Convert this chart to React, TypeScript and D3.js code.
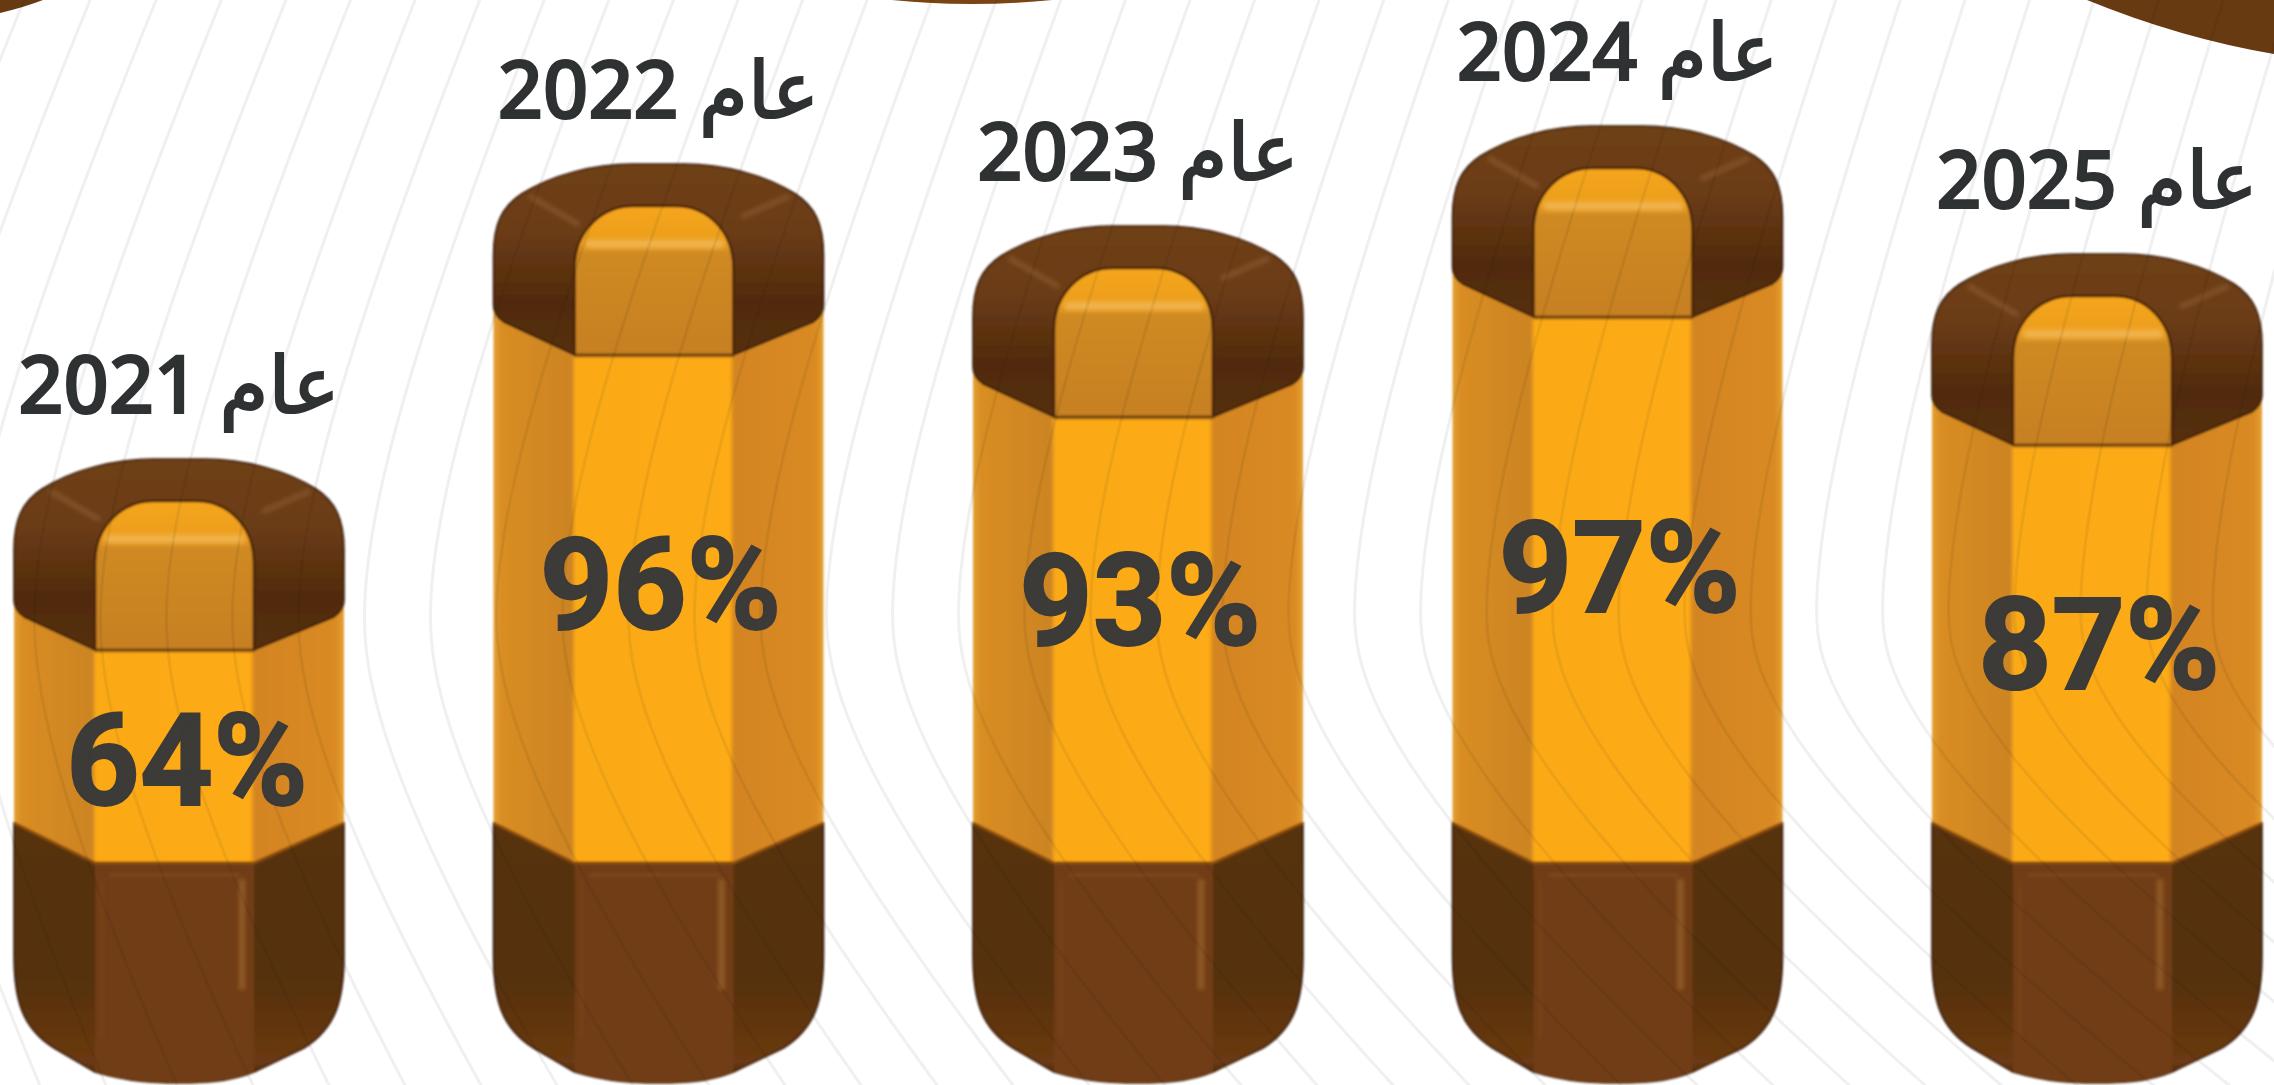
import React from "react";
import * as d3 from "d3";

const years = ["2021", "2022", "2023", "2024", "2025"];
const values = [64, 96, 93, 97, 87];
const yearPrefix = "عام";

const WIDTH = 2274;
const HEIGHT = 1085;
const BAR_W = 330;

// the pictogram heights are not proportional to the values, so these scales are piecewise
const xScale = d3.scalePoint<string>().domain(years).range([14, 1932]);
const topScale = d3.scaleLinear().domain([64, 87, 93, 96, 97]).range([458, 253, 225, 163, 125]);
const pctBase = d3.scaleLinear().domain([64, 87, 93, 96, 97]).range([805, 689, 645, 629, 612]);
const pctNudge = d3.scaleLinear().domain([64, 87]).range([8, 2]).clamp(true);

const BODY_SIDE = 823;
const BODY_MID = 863;
const BOTTOM = 1083;
const P0 = 81;
const P1 = 240;

function capOuter(l: number, t: number) {
  const p = d3.path();
  p.moveTo(l, t + 142);
  p.lineTo(l, t + 92);
  p.bezierCurveTo(l, t + 62, l + 8, t + 44, l + 28, t + 31);
  p.bezierCurveTo(l + 58, t + 12, l + 100, t + 1, l + 140, t + 1);
  p.lineTo(l + 190, t + 1);
  p.bezierCurveTo(l + 230, t + 1, l + 272, t + 12, l + 302, t + 31);
  p.bezierCurveTo(l + 322, t + 44, l + BAR_W, t + 62, l + BAR_W, t + 92);
  p.lineTo(l + BAR_W, t + 142);
  p.bezierCurveTo(l + BAR_W, t + 150, l + BAR_W - 4, t + 155, l + BAR_W - 10, t + 159);
  p.lineTo(l + P1, t + 192);
  p.lineTo(l + P0, t + 192);
  p.lineTo(l + 10, t + 159);
  p.bezierCurveTo(l + 4, t + 155, l, t + 150, l, t + 142);
  p.closePath();
  return p.toString();
}

function capPanel(l: number, t: number) {
  const p = d3.path();
  p.moveTo(l + P0, t + 192);
  p.lineTo(l + P0, t + 105);
  p.bezierCurveTo(l + P0, t + 68, l + 108, t + 43, l + 140, t + 43);
  p.lineTo(l + 182, t + 43);
  p.bezierCurveTo(l + 214, t + 43, l + P1, t + 68, l + P1, t + 105);
  p.lineTo(l + P1, t + 192);
  p.closePath();
  return p.toString();
}

function body(l: number, t: number) {
  const p = d3.path();
  p.moveTo(l, t + 140);
  p.lineTo(l + BAR_W, t + 140);
  p.lineTo(l + BAR_W, BODY_SIDE + 4);
  p.lineTo(l + P1, BODY_MID + 2);
  p.lineTo(l + P0, BODY_MID + 2);
  p.lineTo(l, BODY_SIDE + 4);
  p.closePath();
  return p.toString();
}

function bottomCap(l: number) {
  const w = l + BAR_W;
  const p = d3.path();
  p.moveTo(l, BODY_SIDE);
  p.lineTo(l + P0, BODY_MID);
  p.lineTo(l + P1, BODY_MID);
  p.lineTo(w, BODY_SIDE);
  p.lineTo(w, 955);
  p.bezierCurveTo(w, 1000, w - 8, 1028, w - 40, 1048);
  p.lineTo(l + P1, 1072);
  p.bezierCurveTo(l + 215, 1082, l + 190, BOTTOM, l + 165, BOTTOM);
  p.bezierCurveTo(l + 140, BOTTOM, l + 115, 1082, l + P0, 1072);
  p.lineTo(l + 40, 1048);
  p.bezierCurveTo(l + 8, 1028, l, 1000, l, 955);
  p.closePath();
  return p.toString();
}

function bottomPanel(l: number) {
  const p = d3.path();
  p.moveTo(l + P0, BODY_MID);
  p.lineTo(l + P1, BODY_MID);
  p.lineTo(l + P1, 1072);
  p.bezierCurveTo(l + 215, 1082, l + 190, BOTTOM, l + 165, BOTTOM);
  p.bezierCurveTo(l + 140, BOTTOM, l + 115, 1082, l + P0, 1072);
  p.closePath();
  return p.toString();
}

// decorative contour lines of the page background
const contour = d3
  .line<[number, number]>()
  .x((d) => d[0])
  .y((d) => d[1])
  .curve(d3.curveBasis);

function contourPath(x0: number) {
  const c = 620;
  const up = 0.46 - (Math.max(x0, 0) / 2274) * 0.12;
  const down = 0.5 + (Math.max(x0, 0) / 2000) * 1.1;
  const pts = d3.range(-20, 1110, 30).map((y): [number, number] => {
    const d = Math.abs(y - c);
    const s = y < c ? up : down;
    return [x0 + (s * d * d) / (d + 320), y];
  });
  return contour(pts) as string;
}
const contourStarts = d3.range(-560, 2420, 66);

export default function App() {
  return (
    <svg
      width={WIDTH}
      height={HEIGHT}
      viewBox={`0 0 ${WIDTH} ${HEIGHT}`}
      style={{ position: "fixed", left: 0, top: 0, background: "#fff" }}
    >
      <defs>
        <filter id="soft" x="-5%" y="-5%" width="110%" height="110%">
          <feGaussianBlur stdDeviation="0.9" />
        </filter>
        <filter id="softer" x="-40%" y="-200%" width="180%" height="500%">
          <feGaussianBlur stdDeviation="2.2" />
        </filter>
        <filter id="textSoft" x="-5%" y="-10%" width="110%" height="120%">
          <feGaussianBlur stdDeviation="0.7" />
        </filter>
        <linearGradient id="bodyGrad" x1="0" x2="1" y1="0" y2="0">
          <stop offset="0" stopColor="#e3a033" />
          <stop offset="0.025" stopColor="#d98d24" />
          <stop offset="0.235" stopColor="#cc8422" />
          <stop offset="0.25" stopColor="#fbaa18" />
          <stop offset="0.715" stopColor="#fdab18" />
          <stop offset="0.73" stopColor="#d38520" />
          <stop offset="0.975" stopColor="#da8a22" />
          <stop offset="1" stopColor="#e3a033" />
        </linearGradient>
        <linearGradient id="capGrad" x1="0" x2="0" y1="0" y2="1">
          <stop offset="0" stopColor="#6f4016" />
          <stop offset="0.35" stopColor="#6b3c15" />
          <stop offset="0.72" stopColor="#512b0e" />
          <stop offset="1" stopColor="#55300f" />
        </linearGradient>
        <linearGradient id="panelGrad" x1="0" x2="0" y1="0" y2="1">
          <stop offset="0" stopColor="#f6a61b" />
          <stop offset="0.25" stopColor="#eb9e1e" />
          <stop offset="0.32" stopColor="#cf8a24" />
          <stop offset="1" stopColor="#c68021" />
        </linearGradient>
        <linearGradient id="baseGrad" x1="0" x2="0" y1="0" y2="1">
          <stop offset="0" stopColor="#56300e" />
          <stop offset="0.6" stopColor="#55300f" />
          <stop offset="0.92" stopColor="#6b3a12" />
          <stop offset="1" stopColor="#3c1e08" />
        </linearGradient>
      </defs>

      {/* page corners */}
      <path d="M0,13 Q25,7 43,0 L0,0 Z" fill="#673a12" />
      <ellipse cx={972} cy={-60} rx={230} ry={64} fill="#7a4513" />
      <path d={`M2087,0 Q2180,38 ${WIDTH},54 L${WIDTH},0 Z`} fill="#673a12" />

      {/* bars */}
      <g filter="url(#soft)">
        {years.map((year, i) => {
          const l = xScale(year) as number;
          const t = topScale(values[i]);
          return (
            <g key={year}>
              <path d={body(l, t)} fill="url(#bodyGrad)" />
              <path d={bottomCap(l)} fill="url(#baseGrad)" stroke="#321707" strokeWidth={1.5} />
              <path d={bottomPanel(l)} fill="#703c15" />
              <g filter="url(#softer)">
                <line x1={l + 96} x2={l + 226} y1={BODY_MID + 12} y2={BODY_MID + 12} stroke="#905a2a" strokeWidth={3} opacity={0.7} />
                <line x1={l + 228} x2={l + 228} y1={BODY_MID + 16} y2={990} stroke="#935c2b" strokeWidth={7} opacity={0.9} />
                <line x1={l + 88} x2={l + 88} y1={BODY_MID + 16} y2={1040} stroke="#85501f" strokeWidth={3} opacity={0.5} />
              </g>
              <path
                d={`M${l},${BODY_SIDE} L${l + P0},${BODY_MID} L${l + P1},${BODY_MID} L${l + BAR_W},${BODY_SIDE}`}
                fill="none"
                stroke="#8a4c10"
                strokeWidth={3}
              />
              <path d={capOuter(l, t)} fill="url(#capGrad)" stroke="#321707" strokeWidth={1.5} />
              <g filter="url(#softer)" opacity={0.8}>
                <line x1={l + 36} y1={t + 33} x2={l + 86} y2={t + 62} stroke="#8a5a30" strokeWidth={5} />
                <line x1={l + 296} y1={t + 33} x2={l + 248} y2={t + 54} stroke="#8a5a30" strokeWidth={5} />
              </g>
              <path d={capPanel(l, t)} fill="url(#panelGrad)" stroke="#4a2308" strokeWidth={2.5} />
              <rect x={l + 92} y={t + 77} width={138} height={8} fill="#f3b652" opacity={0.9} filter="url(#softer)" />
              <line x1={l + P0} x2={l + P1} y1={t + 193} y2={t + 193} stroke="#8f5a14" strokeWidth={3} opacity={0.7} />
            </g>
          );
        })}
      </g>

      {/* contour lines, also tinting the bars they cross */}
      <g style={{ mixBlendMode: "multiply" }} fill="none" stroke="#f0f0f0" strokeWidth={3}>
        {contourStarts.map((x0) => (
          <path key={x0} d={contourPath(x0)} />
        ))}
      </g>

      {/* labels */}
      <g filter="url(#textSoft)">
        {years.map((year, i) => {
          const l = xScale(year) as number;
          const t = topScale(values[i]);
          return (
            <g key={year}>
              <text
                x={l + BAR_W / 2}
                y={t - 45}
                textAnchor="middle"
                direction="rtl"
                fontFamily="'Noto Sans', 'DejaVu Sans', sans-serif"
                fontWeight={500}
                fontSize={79}
                fill="#2f3033"
                stroke="#2f3033"
                strokeWidth={2}
              >
                {`${yearPrefix} ${year}`}
              </text>
              <text
                x={l + BAR_W / 2 + pctNudge(values[i])}
                y={pctBase(values[i])}
                textAnchor="middle"
                fontFamily="Roboto, 'Noto Sans', sans-serif"
                fontWeight={700}
                fontSize={128}
                fill="#3c3a38"
                stroke="#3c3a38"
                strokeWidth={2}
              >
                {`${values[i]}%`}
              </text>
            </g>
          );
        })}
      </g>
    </svg>
  );
}
